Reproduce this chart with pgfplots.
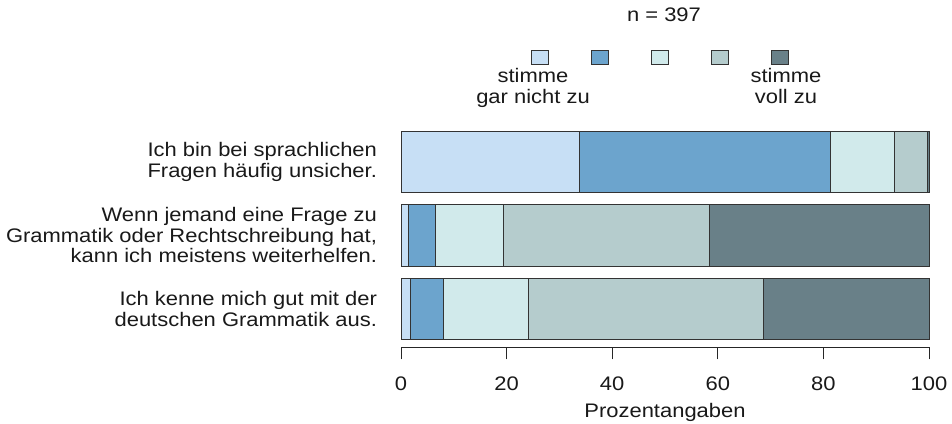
\documentclass[border=0pt]{standalone}
\usepackage{pgfplots}
\pgfplotsset{compat=1.18}
\usepackage{fontspec}
\setmainfont{Liberation Sans}[FakeStretch=1.12]
\definecolor{c1}{RGB}{199,223,245}
\definecolor{c2}{RGB}{108,164,205}
\definecolor{c3}{RGB}{209,234,235}
\definecolor{c4}{RGB}{181,204,205}
\definecolor{c5}{RGB}{105,128,136}
\definecolor{txt}{RGB}{25,25,25}
\newcommand{\lblfont}{\fontsize{14.7pt}{15.4pt}\selectfont}
\tikzset{ylab/.style={anchor=east, xshift=-14.5pt, align=right, text=txt, font=\lblfont},
  leg/.style={text=txt, font=\lblfont, anchor=base, inner sep=0pt}}
\begin{document}
\begin{tikzpicture}
\useasboundingbox (0,0) rectangle (714pt,318pt);
\begin{axis}[
  at={(300.75pt,57.5pt)}, anchor=south west,
  scale only axis, width=396pt, height=166.7pt,
  xbar stacked, bar width=46pt,
  xmin=0, xmax=100, ymin=-0.52, ymax=2.5,
  hide y axis,
  axis x line*=bottom,
  x axis line style={black!85, line width=0.75pt},
  xtick={0,20,40,60,80,100},
  tick align=outside,
  major tick length=9pt,
  xtick style={black!85, line width=0.75pt},
  /pgf/number format/assume math mode=true,
  xticklabel style={font=\lblfont, text=txt, anchor=base, yshift=-23.5pt},
  xlabel={Prozentangaben},
  xlabel style={font=\lblfont, text=txt, at={(axis description cs:0.5,0)}, anchor=base, yshift=-53pt},
  clip=false,
]
\addplot[draw=black!80, line width=0.6pt, fill=c1] coordinates {(33.8,2) (1.4,1) (1.8,0)};
\addplot[draw=black!80, line width=0.6pt, fill=c2] coordinates {(47.6,2) (5.1,1) (6.2,0)};
\addplot[draw=black!80, line width=0.6pt, fill=c3] coordinates {(12.1,2) (12.9,1) (16.2,0)};
\addplot[draw=black!80, line width=0.6pt, fill=c4] coordinates {(6.2,2) (39.1,1) (44.5,0)};
\addplot[draw=black!80, line width=0.6pt, fill=c5] coordinates {(0.3,2) (41.5,1) (31.3,0)};
\node[ylab] at (axis cs:0,2) {Ich bin bei sprachlichen\\Fragen häufig unsicher.};
\node[ylab] at (axis cs:0,1) {Wenn jemand eine Frage zu\\Grammatik oder Rechtschreibung hat,\\kann ich meistens weiterhelfen.};
\node[ylab] at (axis cs:0,0) {Ich kenne mich gut mit der\\deutschen Grammatik aus.};
\end{axis}
\node[leg] at (498pt,302pt) {n = 397};
\foreach \cx/\cc in {405/c1,450/c2,495/c3,540/c4,585/c5}{
  \draw[black!80, line width=0.6pt, fill=\cc] (\cx pt-6.4pt,270pt) rectangle (\cx pt+6.4pt,280.5pt);
}
\node[leg] at (399.75pt,255.75pt) {stimme};
\node[leg] at (399.75pt,240pt) {gar nicht zu};
\node[leg] at (589.5pt,255.75pt) {stimme};
\node[leg] at (589.5pt,240pt) {voll zu};
\end{tikzpicture}
\end{document}
